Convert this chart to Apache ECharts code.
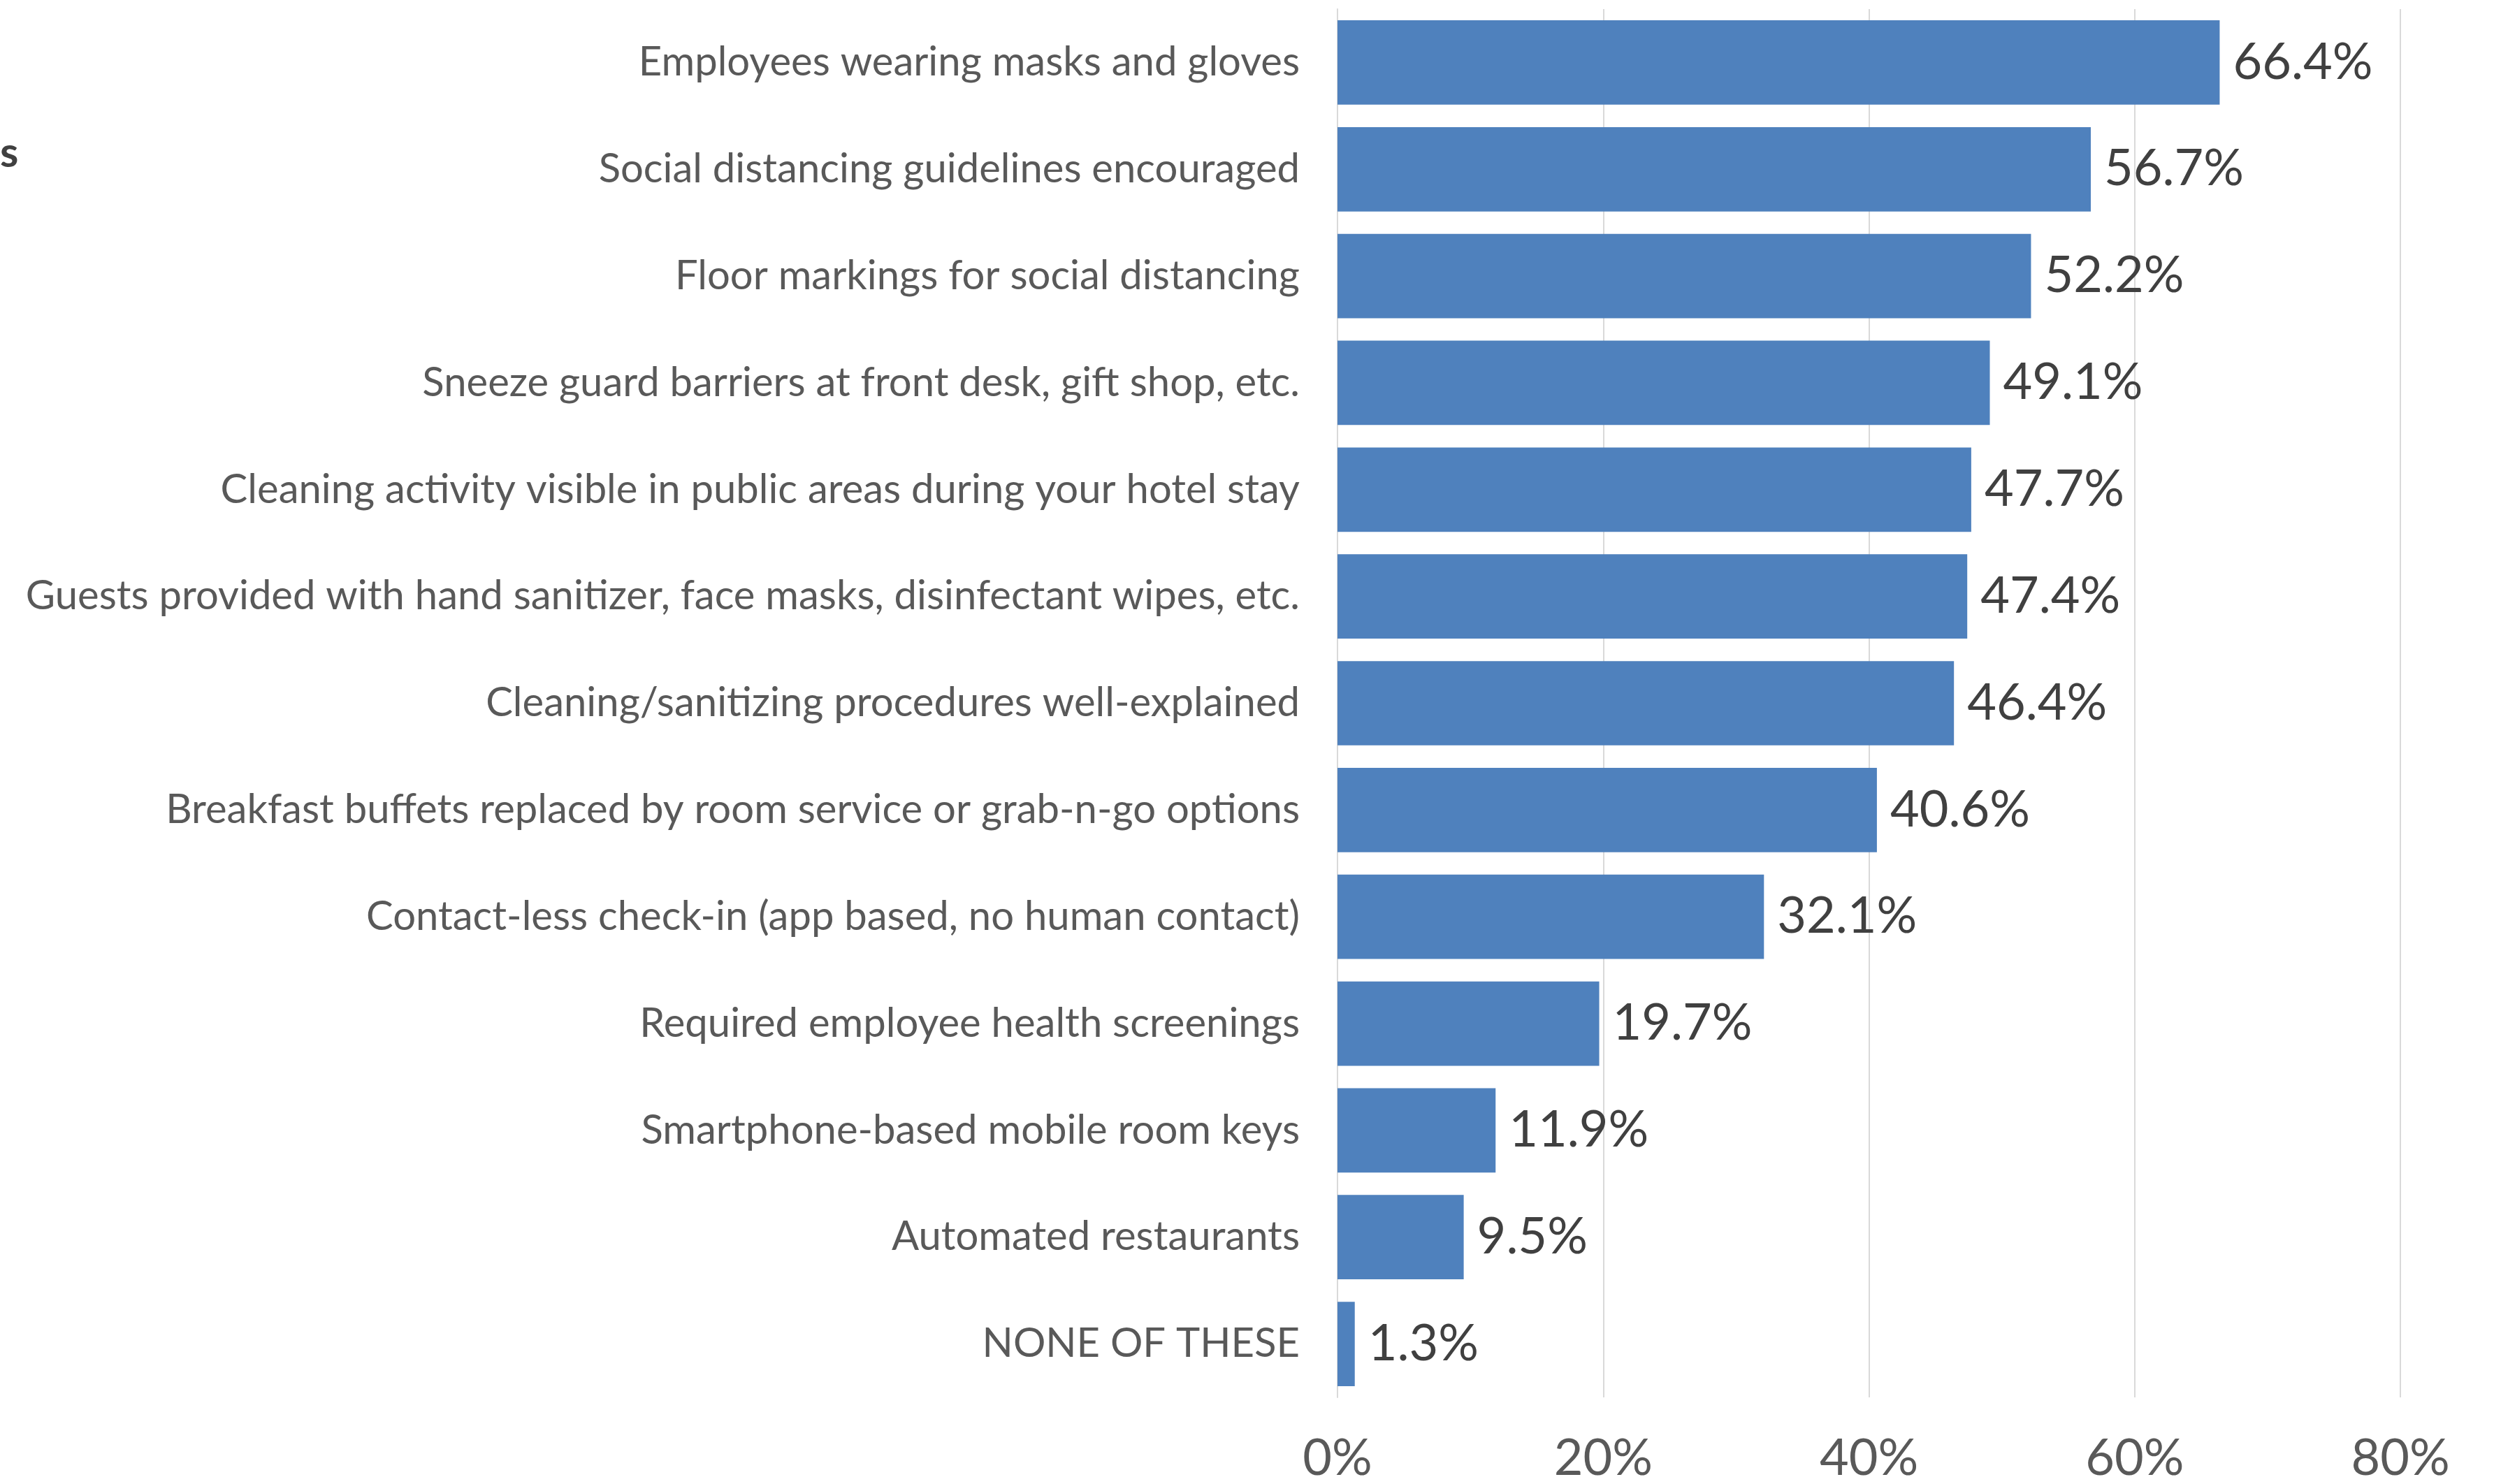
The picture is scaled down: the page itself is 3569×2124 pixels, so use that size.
<!DOCTYPE html>
<html>
<head>
<meta charset="utf-8">
<script src="https://cdn.jsdelivr.net/npm/echarts@6/dist/echarts.min.js"></script>
<style>
  html, body { margin: 0; padding: 0; background: #ffffff; }
  #chart { width: 3569px; height: 2124px; }
</style>
</head>
<body>
<div id="chart"></div>
<script>
// Hotel safety measures, share of respondents (%)
const categories = [
  'Employees wearing masks and gloves',
  'Social distancing guidelines encouraged',
  'Floor markings for social distancing',
  'Sneeze guard barriers at front desk, gift shop, etc.',
  'Cleaning activity visible in public areas during your hotel stay',
  'Guests provided with hand sanitizer, face masks, disinfectant wipes, etc.',
  'Cleaning/sanitizing procedures well-explained',
  'Breakfast buffets replaced by room service or grab-n-go options',
  'Contact-less check-in (app based, no human contact)',
  'Required employee health screenings',
  'Smartphone-based mobile room keys',
  'Automated restaurants',
  'NONE OF THESE'
];
const values = [66.4, 56.7, 52.2, 49.1, 47.7, 47.4, 46.4, 40.6, 32.1, 19.7, 11.9, 9.5, 1.3];
const axisTicks = [0, 20, 40, 60, 80];

const FONT = 'Lato';
const chart = echarts.init(document.getElementById('chart'));

chart.setOption({
  backgroundColor: '#ffffff',
  animation: false,
  textStyle: { fontFamily: FONT },
  graphic: [{
    type: 'text',
    left: 0,
    top: 190,
    style: { text: 's', font: 'bold 60px ' + FONT, fill: '#404040' }
  }],
  grid: { left: 1914, width: 1521, top: 13, height: 1995, containLabel: false },
  xAxis: {
    type: 'value',
    min: axisTicks[0],
    max: axisTicks[axisTicks.length - 1],
    interval: 20,
    axisLine: { show: false },
    axisTick: { show: false },
    splitLine: { show: true, lineStyle: { color: '#d9d9d9', width: 2 } },
    axisLabel: {
      margin: 52,
      fontSize: 72,
      color: '#595959',
      fontFamily: FONT,
      formatter: v => v + '%'
    }
  },
  yAxis: {
    type: 'category',
    data: categories,
    inverse: true,
    axisLine: { show: true, lineStyle: { color: '#d9d9d9', width: 2 } },
    axisTick: { show: false },
    axisLabel: {
      margin: 54,
      fontSize: 58,
      color: '#595959',
      fontFamily: FONT
    }
  },
  series: [{
    type: 'bar',
    data: values,
    barCategoryGap: '21%',
    itemStyle: { color: '#4F81BD' },
    label: {
      show: true,
      position: 'right',
      distance: 19,
      fontSize: 72,
      color: '#404040',
      fontFamily: FONT,
      formatter: p => p.value.toFixed(1) + '%'
    }
  }]
});
</script>
</body>
</html>
